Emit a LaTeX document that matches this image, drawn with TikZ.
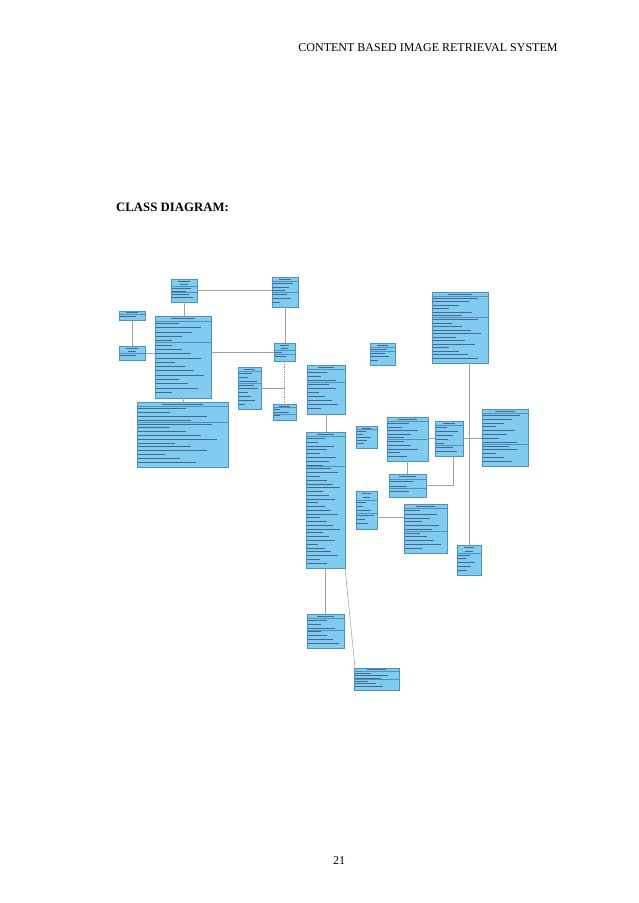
\documentclass[tikz,border=0pt]{standalone}
\usepackage{fontspec}
\setmainfont{Liberation Serif}
\usetikzlibrary{calc}
\definecolor{clsfill}{RGB}{128,204,240}
\definecolor{clsdraw}{RGB}{75,145,195}
\definecolor{connc}{RGB}{160,160,160}
\definecolor{txtc}{RGB}{70,105,135}
\tikzset{
  cls/.style={draw=clsdraw, fill=clsfill, line width=0.5pt, inner sep=0pt, outer sep=0pt},
  sepl/.style={draw=clsdraw, line width=0.4pt},
  tline/.style={draw=txtc, line width=0.4pt},
  conn/.style={draw=connc, line width=0.5pt},
}
\newcommand{\umlc}[8]{%
  \pgfmathsetmacro{\uw}{#4-#2}%
  \pgfmathsetmacro{\uh}{#5-#3}%
  \node[cls, minimum width=\uw pt, minimum height=\uh pt, anchor=north west] (#1) at (#2,#3) {};
  \pgfmathsetmacro{\pp}{(\uh-1.2)/(#6+#7+#8+0.8)}%
  \pgfmathsetmacro{\ya}{#3+#6*\pp+0.6}%
  \pgfmathsetmacro{\yb}{\ya+#7*\pp+0.2}%
  \draw[sepl] (#2,\ya) -- (#4,\ya);
  \ifnum#8>0 \draw[sepl] (#2,\yb) -- (#4,\yb);\fi
  \foreach \k in {1,...,#6}{%
    \pgfmathsetmacro{\yy}{#3+(\k-0.5)*\pp+0.3}%
    \pgfmathsetmacro{\hl}{\uw*(0.22-0.05*(\k-1))}%
    \pgfmathsetmacro{\xc}{(#2+#4)/2}%
    \draw[tline] (\xc-\hl,\yy) -- (\xc+\hl,\yy);
  }
  \ifnum#7>0
  \foreach \k in {1,...,#7}{%
    \pgfmathsetmacro{\yy}{\ya+(\k-0.5)*\pp+0.1}%
    \pgfmathsetmacro{\ln}{(\uw-2.4)*(0.3+0.6*mod(\k*7+#2,10)/10)}%
    \draw[tline] (#2+1.2,\yy) -- ++(\ln,0);
  }\fi
  \ifnum#8>0
  \foreach \k in {1,...,#8}{%
    \pgfmathsetmacro{\yy}{\yb+(\k-0.5)*\pp+0.1}%
    \pgfmathsetmacro{\ln}{(\uw-2.4)*(0.3+0.65*mod(\k*3+#3,11)/11)}%
    \draw[tline] (#2+1.2,\yy) -- ++(\ln,0);
  }\fi
}
\begin{document}
\begin{tikzpicture}[x=1pt,y=-1pt]
\useasboundingbox (0,0) rectangle (638,903);
\node[anchor=base, font=\fontsize{12}{14}\selectfont] (hdr) at (428,51) {CONTENT BASED IMAGE RETRIEVAL SYSTEM};
\node[anchor=base west, inner sep=0pt, font=\fontsize{12.8}{15}\selectfont\bfseries] (ttl) at (116,211) {CLASS DIAGRAM:};
\node[anchor=base, font=\fontsize{12}{14}\selectfont] (pg) at (339,864) {21};

\umlc{A}{171}{279}{197}{302}{2}{2}{2}
\umlc{B}{119}{311}{145}{320}{1}{1}{0}
\umlc{C}{119}{346}{145}{360}{2}{1}{0}
\umlc{D}{155}{316}{211}{398}{1}{5}{12}
\umlc{E}{272}{277}{298}{307}{1}{3}{3}
\umlc{F}{274}{343}{295}{361}{2}{1}{1}
\umlc{G}{238}{367}{261}{409}{1}{3}{6}
\umlc{H}{273}{404}{296}{420}{1}{2}{1}
\umlc{I}{307}{365}{345}{414}{1}{3}{7}
\umlc{J}{306}{432}{345}{568}{1}{8}{26}
\umlc{K}{307}{614}{344}{648}{1}{3}{4}
\umlc{L}{354}{668}{399}{690}{1}{3}{3}
\umlc{M}{370}{343}{395}{365}{1}{1}{3}
\umlc{N}{432}{292}{488}{363}{1}{6}{12}
\umlc{O}{356}{426}{377}{448}{1}{5}{0}
\umlc{P}{387}{417}{428}{461}{1}{5}{5}
\umlc{Q}{389}{474}{426}{497}{1}{2}{1}
\umlc{R}{435}{421}{463}{456}{1}{5}{2}
\umlc{S}{482}{409}{528}{466}{1}{8}{5}
\umlc{U}{356}{491}{377}{529}{2}{3}{3}
\umlc{V}{404}{504}{447}{553}{1}{6}{5}
\umlc{T}{457}{545}{481}{575}{2}{5}{0}
\umlc{W}{137}{402}{228}{467}{1}{4}{11}

% connectors
\draw[conn] (A.south) -- (A.south |- D.north);
\draw[conn] (B.south) -- (B.south |- C.north);
\draw[conn] (C.east) -- (C.east -| D.west);
\draw[conn] (A.east) -- (A.east -| E.west);
\draw[conn] (E.south) -- (E.south |- F.north);
\draw[conn] (F.west) -- (F.west -| D.east);
\draw[conn, dash pattern=on 1.5pt off 1pt] (F.south) -- (F.south |- H.north);
\draw[conn] (G.east) -- (G.east -| F.south);
\draw[conn] (D.south) -- (D.south |- W.north);
\draw[conn] (I.south) -- (I.south |- J.north);
\draw[conn] (J.south) -- (J.south |- K.north);
\draw[conn] (J.south east) -- ([xshift=1pt]L.north west);
\draw[conn] (T.north) -- (T.north |- N.south);
\draw[conn] (P.south) -- (P.south |- Q.north);
\draw[conn] (R.west) -- (R.west -| P.east);
\draw[conn] (R.east) -- (R.east -| S.west);
\draw[conn] (Q.east) -| ([xshift=4pt]R.south);
\coordinate (u1) at ($(U.north east)!0.68!(U.south east)$);
\draw[conn] (u1) -- (u1 -| V.west);
\end{tikzpicture}
\end{document}
